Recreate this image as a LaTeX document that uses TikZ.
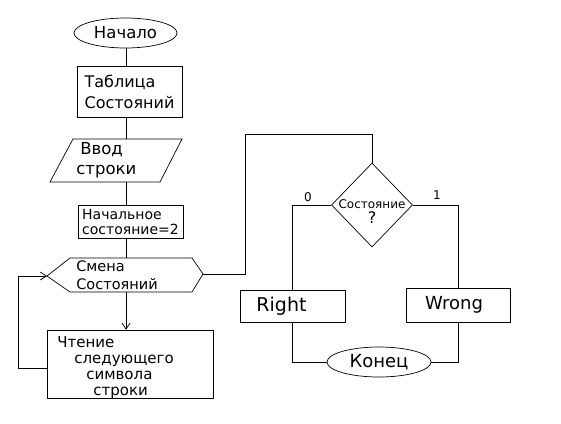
\documentclass[tikz,border=0pt]{standalone}
\usepackage{fontspec}
\setmainfont{DejaVu Sans}
\usetikzlibrary{shapes.geometric,calc,arrows.meta}
\begin{document}
\begin{tikzpicture}[x=1pt,y=-1pt, line width=0.7pt,
  box/.style={draw, rectangle, inner sep=0pt},
  term/.style={draw, ellipse, inner sep=0pt},
  txt/.style={align=left, inner sep=0pt},
  arr/.style={-{Straight Barb[length=6pt,width=8pt]}}]
\useasboundingbox (0,0) rectangle (561,423);
\coordinate (sp) at (126,0);
% start
\node[term, minimum width=103pt, minimum height=30pt, font=\fontsize{16.5}{18}\selectfont] (start) at (125.5,33) {Начало};
% table
\node[box, minimum width=105pt, minimum height=51pt, align=left, font=\fontsize{16}{21}\selectfont] (table) at (129.5,91.5) {Таблица\\Состояний};
% input parallelogram
\node[txt, anchor=west, font=\fontsize{16.5}{20}\selectfont] (input) at (76,160.5) {\hspace{4pt}Ввод\\строки};
\coordinate (inC) at (116,160.5);
\coordinate (inT) at (116,139);
\coordinate (inB) at (116,182);
\draw ($(inC)+(-66,21.5)$) -- ($(inC)+(-43,-21.5)$) -- ($(inC)+(66,-21.5)$) -- ($(inC)+(44,21.5)$) -- cycle;
% init
\node[box, minimum width=105pt, minimum height=33pt, align=left, font=\fontsize{14}{15}\selectfont] (init) at (130.5,221.5) {Начальное\\состояние=2};
% hexagon
\node[txt, font=\fontsize{14.5}{18}\selectfont] (hex) at (117,275) {Смена\\Состояний};
\coordinate (hexL) at (47,276);
\coordinate (hexTL) at (70,258);
\coordinate (hexTR) at (192,258);
\coordinate (hexR) at (203,274);
\coordinate (hexBR) at (192,292);
\coordinate (hexBL) at (70,292);
\coordinate (hexT) at (126,258);
\coordinate (hexB) at (126,292);
\draw (hexL) -- (hexTL) -- (hexTR) -- (hexR) -- (hexBR) -- (hexBL) -- cycle;
% read
\node[box, minimum width=166pt, minimum height=68pt] (read) at (130,364) {};
\node[txt, anchor=north west, font=\fontsize{15}{16}\selectfont] (readtxt) at (57,336) {Чтение\\\hspace{17pt}следующего\\\hspace{29pt}символа\\\hspace{36pt}строки};
% spine
\draw (start.south -| sp) -- (table.north -| sp);
\draw (table.south -| sp) -- (inT -| sp);
\draw (inB -| sp) -- (init.north -| sp);
\draw (init.south -| sp) -- (hexT -| sp);
\draw[arr] (hexB -| sp) -- (read.north -| sp);
% loop back
\draw[arr] ($(read.west)+(0,4)$) -- ++(-28,0) |- (hexL);
% decision
\node[draw, diamond, minimum width=81pt, minimum height=84pt, inner sep=0pt] (dia) at (372,205) {};
\node[align=center, inner sep=0pt, font=\fontsize{12}{15}\selectfont] (diatxt) at (372,212) {Состояние\\{\fontsize{16}{16}\selectfont ?}};
\draw (hexR) -- ++(42,0) |- ($(dia.north)+(0,-28)$) -- (dia.north);
% branches
\node[box, minimum width=105pt, minimum height=32pt, font=\fontsize{19}{20}\selectfont] (right) at (292.5,306) {\hspace{-22pt}Right};
\node[box, minimum width=104pt, minimum height=34pt, font=\fontsize{18}{20}\selectfont] (wrong) at (458,305) {\hspace{-8pt}Wrong};
\node[term, minimum width=104pt, minimum height=30pt, font=\fontsize{18}{20}\selectfont] (end) at (379,362) {Конец};
\draw (dia.west) -| (right.north);
\draw (dia.east) -| (wrong.north);
\node[font=\fontsize{12}{14}\selectfont] (l0) at (308,197) {0};
\node[font=\fontsize{12}{14}\selectfont] (l1) at (437,195) {1};
\draw (right.south) |- (end.west);
\draw (wrong.south) |- (end.east);
\end{tikzpicture}
\end{document}
